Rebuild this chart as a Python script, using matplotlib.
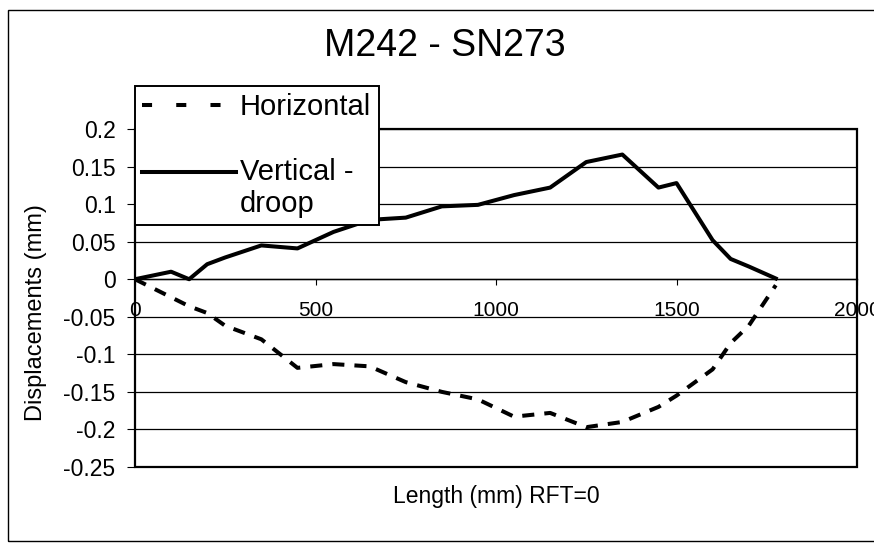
import matplotlib.pyplot as plt
from matplotlib.patches import Rectangle
from matplotlib.lines import Line2D
from matplotlib.legend_handler import HandlerLine2D

# Data (mm)
length = [0, 100, 150, 200, 250, 350, 450, 550, 650, 750, 850, 950,
          1050, 1150, 1250, 1350, 1450, 1500, 1600, 1650, 1700, 1775]
vertical = [0, 0.010, 0, 0.020, 0.029, 0.045, 0.041, 0.063, 0.079, 0.082,
            0.097, 0.099, 0.112, 0.122, 0.156, 0.166, 0.122, 0.128, 0.052,
            0.027, 0.017, 0.001]
horizontal = [0, -0.024, -0.036, -0.045, -0.062, -0.080, -0.118, -0.113,
              -0.116, -0.137, -0.150, -0.160, -0.183, -0.178, -0.197, -0.190,
              -0.170, -0.155, -0.120, -0.085, -0.062, -0.008]

x_ticks = [0, 500, 1000, 1500, 2000]
y_ticks = [-0.25, -0.2, -0.15, -0.1, -0.05, 0, 0.05, 0.1, 0.15, 0.2]
y_tick_labels = ['-0.25', '-0.2', '-0.15', '-0.1', '-0.05', '0',
                 '0.05', '0.1', '0.15', '0.2']


class FirstLineHandler(HandlerLine2D):
    # put the legend line next to the first line of a two-line label
    def __init__(self, shift, **kw):
        super().__init__(**kw)
        self.shift = shift

    def create_artists(self, legend, orig_handle, xdescent, ydescent,
                       width, height, fontsize, trans):
        arts = super().create_artists(legend, orig_handle, xdescent, ydescent,
                                      width, height, fontsize, trans)
        for a in arts:
            a.set_ydata([y + self.shift for y in a.get_ydata()])
        return arts


plt.rcParams['font.family'] = ['Liberation Sans', 'DejaVu Sans']

W, H = 874, 543
fig = plt.figure(figsize=(W / 100, H / 100), dpi=100)

# chart area border (runs off the right edge like the scan)
fig.add_artist(Rectangle((8 / W, 2 / H), 1, 531 / H, transform=fig.transFigure,
                         fill=False, ec='black', lw=1.0))

ax = fig.add_axes([135 / W, 1 - 467 / H, (857 - 135) / W, (467 - 129) / H])

ax.plot(length, horizontal, color='black', lw=2.9, dashes=(3, 2.5))
ax.plot(length, vertical, color='black', lw=2.9)

ax.set_xlim(0, 2000)
ax.set_ylim(-0.25, 0.2)
ax.set_xticks(x_ticks)
ax.set_yticks(y_ticks)
ax.set_yticklabels(y_tick_labels)
ax.yaxis.grid(True, color='black', lw=0.9)

# x axis crosses at y=0, plot area keeps a full box
ax.spines['bottom'].set_position(('data', 0))
ax.spines['bottom'].set_linewidth(1.0)
for s in ['top', 'right', 'left']:
    ax.spines[s].set_linewidth(1.4)
ax.add_patch(Rectangle((0, 0), 1, 1, transform=ax.transAxes, fill=False,
                       ec='black', lw=1.6, clip_on=False))

ax.tick_params(axis='x', direction='out', length=4, pad=12, labelsize=15)
ax.tick_params(axis='y', direction='out', length=6, pad=8, labelsize=16.5)

fig.text(445 / W, 1 - 46 / H, 'M242 - SN273', fontsize=27,
         ha='center', va='center')
fig.text(36 / W, 1 - 313 / H, 'Displacements (mm)', fontsize=17,
         rotation=90, ha='center', va='center')
fig.text(496 / W, 1 - 497 / H, 'Length (mm) RFT=0', fontsize=16.5,
         ha='center', va='center')

h_proxy = Line2D([], [], color='black', lw=2.9, dashes=(2.5, 6))
v_proxy = Line2D([], [], color='black', lw=2.9)
leg = ax.legend([h_proxy, v_proxy], ['Horizontal', 'Vertical -\ndroop'],
                handler_map={v_proxy: FirstLineHandler(shift=12)},
                loc='upper left', bbox_to_anchor=(135 / W, 1 - 86 / H),
                bbox_transform=fig.transFigure, borderaxespad=0,
                fontsize=21, frameon=True, fancybox=False, framealpha=1,
                edgecolor='black', handlelength=3.2, handletextpad=0.15,
                borderpad=0.25, labelspacing=1.25)
leg.get_frame().set_linewidth(1.4)

fig.savefig('out.png', dpi=100)
